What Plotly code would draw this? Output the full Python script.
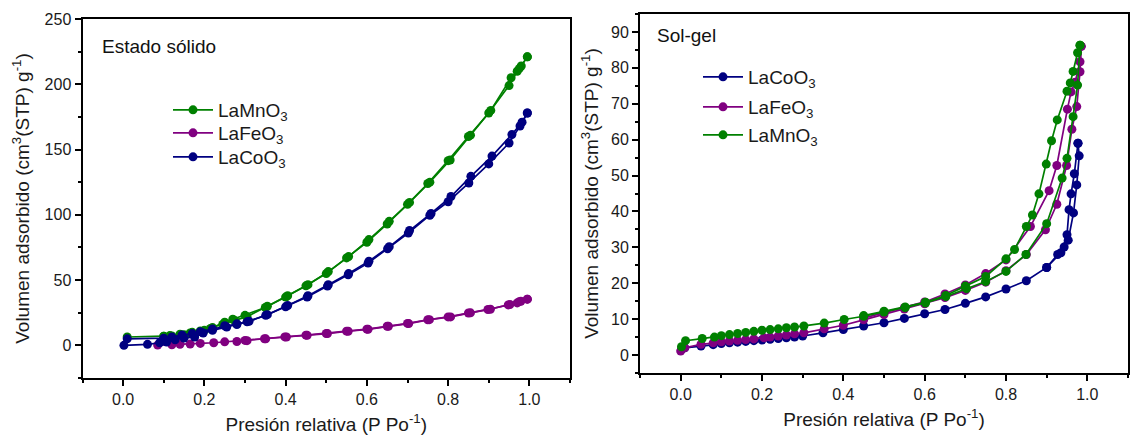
import plotly.graph_objects as go

# ---------------- Estado sólido (left panel) ----------------
mn_ss_ads_p = [0.01, 0.10, 0.12, 0.15, 0.17, 0.20, 0.22, 0.25, 0.27, 0.30, 0.35, 0.40, 0.45, 0.50,
               0.55, 0.60, 0.65, 0.70, 0.75, 0.80, 0.85, 0.90, 0.95, 0.97, 0.98, 0.995]
mn_ss_ads_v = [6.4, 6.9, 7.2, 8.2, 10.0, 11.5, 13.6, 17.7, 20.0, 23.0, 29.0, 37.0, 45.6, 55.0,
               67.0, 79.0, 93.0, 108.0, 124.0, 141.5, 160.0, 178.0, 199.0, 210.0, 214.0, 221.0]
mn_ss_des_p = [0.995, 0.975, 0.955, 0.905, 0.855, 0.805, 0.755, 0.705, 0.655, 0.605, 0.555, 0.505,
               0.455, 0.405, 0.355, 0.305, 0.275, 0.245, 0.215, 0.19, 0.165, 0.14, 0.115, 0.10]
mn_ss_des_v = [221.0, 212.0, 205.0, 180.0, 161.0, 142.0, 125.0, 109.5, 95.0, 81.0, 68.0, 56.5,
               46.5, 38.0, 30.0, 22.0, 19.0, 16.0, 13.0, 11.0, 9.5, 8.5, 7.5, 7.0]

fe_ss_ads_p = [0.085, 0.12, 0.14, 0.165, 0.19, 0.223, 0.25, 0.28, 0.305, 0.351, 0.402, 0.453, 0.503,
               0.554, 0.603, 0.653, 0.703, 0.754, 0.806, 0.855, 0.904, 0.952, 0.97, 0.979, 0.995]
fe_ss_ads_v = [0.2, 0.5, 0.8, 1.0, 1.5, 2.0, 2.7, 3.0, 3.6, 5.0, 6.4, 7.7, 9.0,
               10.8, 12.3, 14.6, 16.7, 19.7, 21.8, 24.9, 27.7, 31.3, 32.5, 33.8, 35.4]
fe_ss_des_p = [0.995, 0.975, 0.948, 0.898, 0.85, 0.80, 0.75, 0.70, 0.65, 0.60, 0.55, 0.50, 0.45,
               0.398, 0.348, 0.30]
fe_ss_des_v = [35.4, 33.5, 31.0, 27.5, 24.8, 21.8, 19.6, 16.8, 14.6, 12.4, 10.9, 9.1, 7.8,
               6.5, 5.1, 3.8]

co_ss_ads_p = [0.002, 0.06, 0.09, 0.107, 0.128, 0.15, 0.176, 0.197, 0.22, 0.255, 0.28, 0.305, 0.351,
               0.40, 0.453, 0.503, 0.554, 0.603, 0.651, 0.702, 0.755, 0.80, 0.851, 0.90, 0.95,
               0.977, 0.995]
co_ss_ads_v = [0.0, 0.8, 2.0, 2.6, 4.3, 5.6, 6.4, 9.5, 11.5, 14.0, 16.0, 18.0, 23.0,
               29.5, 37.0, 45.4, 54.0, 63.0, 74.0, 86.0, 99.7, 110.0, 124.4, 139.0, 155.0,
               168.0, 178.0]
co_ss_des_p = [0.995, 0.982, 0.957, 0.908, 0.856, 0.807, 0.758, 0.705, 0.655, 0.605, 0.555, 0.505,
               0.455, 0.405, 0.355, 0.31, 0.28, 0.25, 0.22, 0.19, 0.17, 0.145, 0.12, 0.10, 0.01]
co_ss_des_v = [178.0, 171.0, 161.5, 145.0, 129.5, 114.0, 101.0, 88.0, 75.5, 64.5, 55.0, 46.5,
               38.0, 30.5, 23.5, 18.5, 16.5, 15.0, 12.5, 10.5, 9.0, 8.0, 6.5, 5.5, 5.0]

# ---------------- Sol-gel (right panel) ----------------
co_sg_ads_p = [0.002, 0.01, 0.05, 0.08, 0.10, 0.12, 0.14, 0.16, 0.18, 0.20, 0.22, 0.24, 0.26, 0.28,
               0.30, 0.35, 0.40, 0.45, 0.50, 0.55, 0.60, 0.65, 0.70, 0.75, 0.80, 0.85, 0.90,
               0.927, 0.943, 0.953, 0.966, 0.974, 0.98, 0.977]
co_sg_ads_v = [1.5, 2.0, 2.5, 2.9, 3.2, 3.4, 3.6, 3.8, 4.0, 4.2, 4.4, 4.6, 4.8, 5.0,
               5.3, 6.2, 7.1, 8.1, 9.0, 10.2, 11.5, 12.7, 14.4, 16.2, 18.4, 20.7, 24.4,
               28.0, 30.1, 32.0, 39.6, 47.4, 55.5, 59.0]
co_sg_des_p = [0.977, 0.968, 0.96, 0.955, 0.95, 0.935, 0.90]
co_sg_des_v = [59.0, 50.5, 44.9, 40.5, 33.5, 28.5, 24.4]

fe_sg_ads_p = [0.0, 0.01, 0.05, 0.08, 0.10, 0.12, 0.14, 0.16, 0.18, 0.205, 0.22, 0.24, 0.26, 0.28,
               0.303, 0.353, 0.40, 0.45, 0.50, 0.55, 0.60, 0.65, 0.70, 0.75, 0.80, 0.85, 0.897,
               0.925, 0.949, 0.962, 0.974, 0.982, 0.985]
fe_sg_ads_v = [1.1, 2.0, 3.0, 3.4, 3.7, 3.9, 4.1, 4.3, 4.5, 4.8, 5.0, 5.3, 5.6, 5.9,
               6.2, 7.3, 8.3, 9.8, 11.3, 12.8, 14.3, 16.0, 18.0, 20.3, 23.5, 28.0, 34.9,
               42.0, 52.8, 62.9, 69.2, 78.9, 86.0]
fe_sg_des_p = [0.985, 0.982, 0.97, 0.96, 0.951, 0.925, 0.906, 0.86, 0.80, 0.75, 0.70, 0.65,
               0.60, 0.55, 0.50, 0.45]
fe_sg_des_v = [86.0, 81.7, 76.0, 73.3, 68.5, 52.8, 45.8, 35.8, 26.5, 22.7, 19.5, 17.0,
               14.8, 13.2, 11.8, 10.3]

mn_sg_ads_p = [0.002, 0.012, 0.053, 0.083, 0.10, 0.12, 0.14, 0.16, 0.18, 0.20, 0.22, 0.24, 0.26,
               0.28, 0.303, 0.353, 0.402, 0.45, 0.50, 0.552, 0.602, 0.652, 0.703, 0.75, 0.80,
               0.849, 0.90, 0.938, 0.95, 0.965, 0.976, 0.982]
mn_sg_ads_v = [2.3, 4.0, 4.6, 5.0, 5.4, 5.7, 6.0, 6.3, 6.6, 6.9, 7.1, 7.3, 7.6,
               7.8, 8.1, 8.9, 9.9, 10.8, 12.0, 13.2, 14.5, 16.3, 18.5, 20.5, 23.3,
               28.0, 36.6, 49.3, 54.8, 66.4, 75.2, 86.3]
mn_sg_des_p = [0.982, 0.976, 0.965, 0.958, 0.95, 0.926, 0.912, 0.899, 0.881, 0.865, 0.85, 0.821,
               0.80, 0.75, 0.70, 0.652, 0.602, 0.552, 0.50, 0.45]
mn_sg_des_v = [86.3, 84.2, 79.0, 75.8, 73.5, 65.5, 59.7, 53.2, 44.9, 39.0, 35.8, 29.4,
               26.8, 21.9, 19.2, 16.6, 14.7, 13.4, 12.2, 11.0]

GREEN = "#008000"
PURPLE = "#800080"
NAVY = "#000080"
FONT = "Arial, 'Liberation Sans', sans-serif"
W, H = 1131, 436

fig = go.Figure()

# each legend entry gets its own legend box so the rows can be placed freely
legend_boxes = {}


def add_isotherm(name, color, ads_p, ads_v, des_p, des_v, xa, ya, legend, lx, ly):
    common = dict(mode="lines+markers", line=dict(color=color, width=1.7),
                  marker=dict(color=color, size=9, symbol="circle"),
                  xaxis=xa, yaxis=ya, legend=legend, legendgroup=legend)
    fig.add_trace(go.Scatter(x=ads_p, y=ads_v, name=name, showlegend=True, **common))
    fig.add_trace(go.Scatter(x=des_p, y=des_v, name=name, showlegend=False, **common))
    legend_boxes[legend] = dict(x=lx / W, y=1 - ly / H, xanchor="left", yanchor="middle",
                                bgcolor="rgba(0,0,0,0)", itemwidth=40,
                                font=dict(family=FONT, size=19, color="#1a1a1a"))


add_isotherm("LaMnO<sub>3</sub>", GREEN, mn_ss_ads_p, mn_ss_ads_v, mn_ss_des_p, mn_ss_des_v, "x", "y", "legend", 168, 110)
add_isotherm("LaFeO<sub>3</sub>", PURPLE, fe_ss_ads_p, fe_ss_ads_v, fe_ss_des_p, fe_ss_des_v, "x", "y", "legend2", 168, 133)
add_isotherm("LaCoO<sub>3</sub>", NAVY, co_ss_ads_p, co_ss_ads_v, co_ss_des_p, co_ss_des_v, "x", "y", "legend3", 168, 157)

add_isotherm("LaCoO<sub>3</sub>", NAVY, co_sg_ads_p, co_sg_ads_v, co_sg_des_p, co_sg_des_v, "x2", "y2", "legend4", 698, 77)
add_isotherm("LaFeO<sub>3</sub>", PURPLE, fe_sg_ads_p, fe_sg_ads_v, fe_sg_des_p, fe_sg_des_v, "x2", "y2", "legend5", 698, 107)
add_isotherm("LaMnO<sub>3</sub>", GREEN, mn_sg_ads_p, mn_sg_ads_v, mn_sg_des_p, mn_sg_des_v, "x2", "y2", "legend6", 698, 135)

tickfont = dict(family=FONT, size=16, color="#1a1a1a")
titlefont = dict(family=FONT, size=19, color="#1a1a1a")

axis_common = dict(showline=True, linecolor="black", linewidth=2, mirror=True,
                   ticks="outside", ticklen=6, tickwidth=1.5, tickcolor="black",
                   showgrid=False, zeroline=False, tickfont=tickfont, automargin=False)
minor_common = dict(ticks="outside", ticklen=3, tickwidth=1.5, tickcolor="black", tick0=0)

x_title = "Presión relativa (P Po<sup>-1</sup>)"
y_title = "Volumen adsorbido (cm<sup>3</sup>(STP) g<sup>-1</sup>)"

fig.update_layout(
    width=W, height=H,
    margin=dict(l=0, r=0, t=0, b=0),
    paper_bgcolor="white", plot_bgcolor="white",
    font=dict(family=FONT, color="#1a1a1a"),
    xaxis=dict(domain=[82.5 / W, 570 / W], range=[-0.1, 1.1], tick0=0, dtick=0.2, tickformat=".1f",
               minor=dict(dtick=0.1, **minor_common),
               title=dict(text=x_title, font=titlefont, standoff=10), anchor="y", **axis_common),
    yaxis=dict(domain=[1 - 378 / H, 1 - 19 / H], range=[-25, 250], tick0=0, dtick=50,
               minor=dict(dtick=25, **minor_common),
               title=dict(text=y_title, font=titlefont, standoff=10), anchor="x", **axis_common),
    xaxis2=dict(domain=[640 / W, 1128 / W], range=[-0.1, 1.1], tick0=0, dtick=0.2, tickformat=".1f",
                minor=dict(dtick=0.1, **minor_common),
                title=dict(text=x_title, font=titlefont, standoff=10), anchor="y2", **axis_common),
    yaxis2=dict(domain=[1 - 373 / H, 1 - 14 / H], range=[-5, 95], tick0=0, dtick=10,
                minor=dict(dtick=5, **minor_common),
                title=dict(text=y_title, font=titlefont, standoff=7), anchor="x2", **axis_common),
    annotations=[
        dict(text="Estado sólido", xref="paper", yref="paper", x=100 / W, y=1 - 46 / H,
             xanchor="left", yanchor="middle", showarrow=False, font=dict(family=FONT, size=19, color="#111")),
        dict(text="Sol-gel", xref="paper", yref="paper", x=655 / W, y=1 - 36 / H,
             xanchor="left", yanchor="middle", showarrow=False, font=dict(family=FONT, size=19, color="#111")),
    ],
)
fig.update_layout(**legend_boxes)

fig.write_html("out.html")
